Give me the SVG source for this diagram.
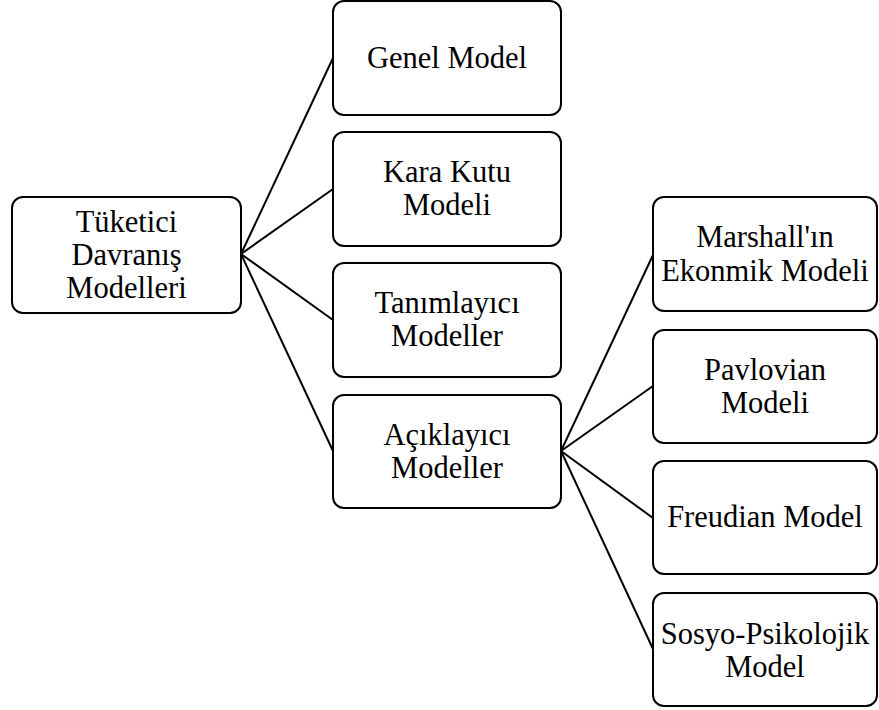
<svg xmlns="http://www.w3.org/2000/svg" width="879" height="710" viewBox="0 0 879 710">
<style>
.box{fill:#fff;stroke:#000;stroke-width:2}
.t{font-family:"Liberation Serif","Times New Roman",serif;font-size:30.5px;fill:#000;text-anchor:middle}
.c{stroke:#000;stroke-width:2;fill:none}
</style>
<rect width="879" height="710" fill="#fff"/>
<g id="connectors">
<line class="c" x1="241" y1="254" x2="333" y2="58"/>
<line class="c" x1="241" y1="254" x2="333" y2="189"/>
<line class="c" x1="241" y1="254" x2="333" y2="320"/>
<line class="c" x1="241" y1="254" x2="333" y2="451"/>
<line class="c" x1="561" y1="451" x2="653" y2="255"/>
<line class="c" x1="561" y1="451" x2="653" y2="386"/>
<line class="c" x1="561" y1="451" x2="653" y2="518"/>
<line class="c" x1="561" y1="451" x2="653" y2="649"/>
</g>
<g id="root">
<rect class="box" x="12" y="197" width="229" height="116" rx="11"/>
<text class="t" x="126.5" y="232">Tüketici</text>
<text class="t" x="126.5" y="265">Davranış</text>
<text class="t" x="126.5" y="298">Modelleri</text>
</g>
<g id="genel">
<rect class="box" x="333" y="1" width="228" height="114" rx="11"/>
<text class="t" x="447" y="68">Genel Model</text>
</g>
<g id="karakutu">
<rect class="box" x="333" y="132" width="228" height="114" rx="11"/>
<text class="t" x="447" y="182">Kara Kutu</text>
<text class="t" x="447" y="215">Modeli</text>
</g>
<g id="tanimlayici">
<rect class="box" x="333" y="263" width="228" height="114" rx="11"/>
<text class="t" x="447" y="313">Tanımlayıcı</text>
<text class="t" x="447" y="346">Modeller</text>
</g>
<g id="aciklayici">
<rect class="box" x="333" y="395" width="228" height="113" rx="11"/>
<text class="t" x="447" y="445">Açıklayıcı</text>
<text class="t" x="447" y="478">Modeller</text>
</g>
<g id="marshall">
<rect class="box" x="653" y="197" width="224" height="114" rx="11"/>
<text class="t" x="765" y="247">Marshall'ın</text>
<text class="t" x="765" y="281">Ekonmik Modeli</text>
</g>
<g id="pavlovian">
<rect class="box" x="653" y="330" width="224" height="113" rx="11"/>
<text class="t" x="765" y="380">Pavlovian</text>
<text class="t" x="765" y="413">Modeli</text>
</g>
<g id="freudian">
<rect class="box" x="653" y="461" width="224" height="113" rx="11"/>
<text class="t" x="765" y="527">Freudian Model</text>
</g>
<g id="sosyo">
<rect class="box" x="653" y="593" width="224" height="113" rx="11"/>
<text class="t" x="765" y="644">Sosyo-Psikolojik</text>
<text class="t" x="765" y="677">Model</text>
</g>
</svg>
